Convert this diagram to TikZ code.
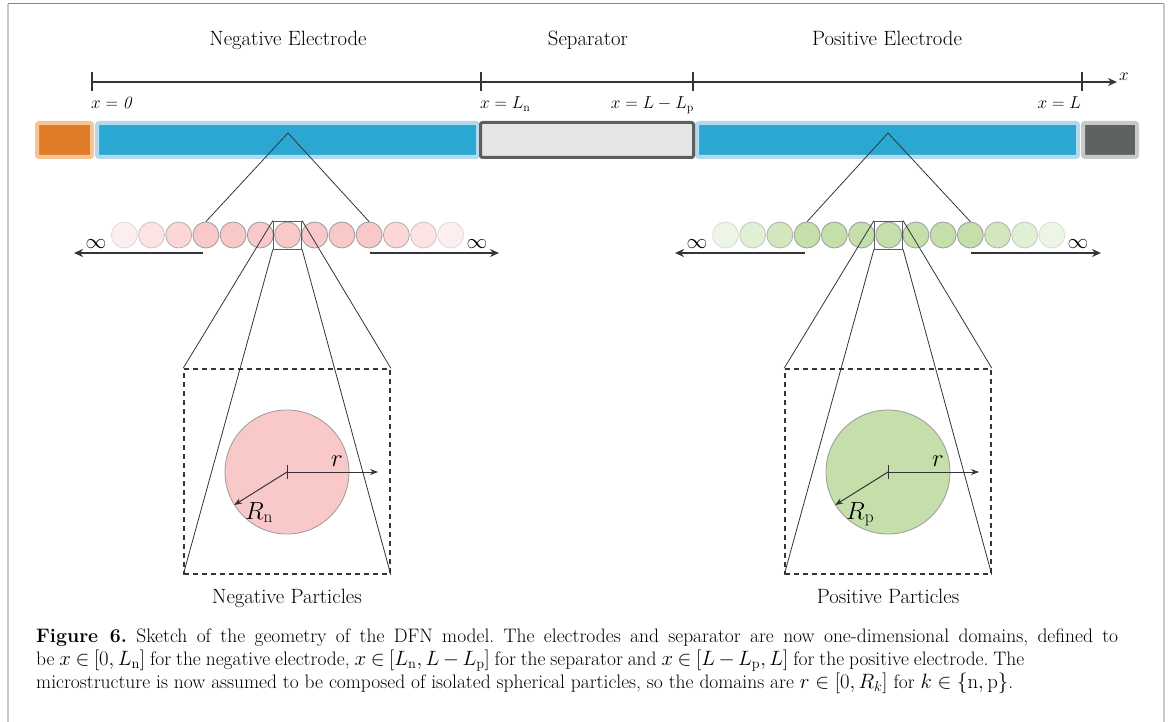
\documentclass[tikz,border=0pt]{standalone}
\usepackage{amsmath}
\usetikzlibrary{arrows.meta}
\definecolor{orangeF}{HTML}{E07B28}
\definecolor{orangeB}{HTML}{F3C594}
\definecolor{blueF}{HTML}{2BA8D2}
\definecolor{blueB}{HTML}{B3D9EB}
\definecolor{sepF}{HTML}{E5E5E5}
\definecolor{sepB}{HTML}{5B5F60}
\definecolor{grayF}{HTML}{5F6263}
\definecolor{grayB}{HTML}{C9C9C9}
\definecolor{pinkF}{HTML}{F9C9C9}
\definecolor{greenF}{HTML}{C4DFAA}
\definecolor{circB}{HTML}{9A9A9A}
\definecolor{ink}{HTML}{333538}
\definecolor{frameL}{HTML}{C8C8C8}
\definecolor{frameT}{HTML}{8A8A8A}
\tikzset{
  blockbox/.style={draw, rounded corners=2pt, inner sep=0pt, outer sep=0pt, minimum height=34pt},
  particle/.style={circle, draw=circB, line width=0.8pt, inner sep=0pt, minimum size=26pt},
  bigparticle/.style={circle, draw=circB, line width=0.8pt, inner sep=0pt, minimum size=124pt},
  zoombox/.style={draw=ink!80, line width=0.8pt, inner sep=0pt, minimum width=28.4pt, minimum height=28pt},
  dashbox/.style={draw=ink, line width=1.6pt, dash pattern=on 5pt off 4pt, inner sep=0pt, minimum width=206pt, minimum height=205pt},
  thinline/.style={draw=ink, line width=0.8pt},
  axisline/.style={draw=ink, line width=1.6pt},
  infarrow/.style={draw=ink, line width=2pt, -{Stealth[length=9pt,width=8pt]}},
  radarrow/.style={draw=ink, line width=1pt, -{Stealth[length=8pt,width=6pt]}},
  titletext/.style={font=\fontsize{20.7}{24}\selectfont, inner sep=0pt, anchor=base},
  axistext/.style={font=\fontsize{17.5}{20}\selectfont, inner sep=0pt},
  inftext/.style={font=\fontsize{20}{22}\selectfont, inner sep=0pt},
  symtext/.style={font=\fontsize{25}{28}\selectfont, inner sep=0pt, anchor=base west},
  captext/.style={font=\fontsize{19.5}{23}\selectfont\frenchspacing, inner sep=0pt, anchor=base west},
}
\begin{document}
\begin{tikzpicture}[x=1pt,y=-1pt]
\useasboundingbox (0,0) rectangle (1170,722);
% frame
\draw[frameL, line width=2pt] (8,4) -- (8,722);
\draw[frameL, line width=2pt] (1164,4) -- (1164,722);
\draw[frameT, line width=1pt] (8,4) -- (1164,4);

% titles
\node[titletext] (tneg) at (288,46) {Negative Electrode};
\node[titletext] (tsep) at (588,46) {Separator};
\node[titletext] (tpos) at (887,46) {Positive Electrode};

% axis
\coordinate (a0) at (92,82);
\coordinate (a1) at (481,82);
\coordinate (a2) at (693,82);
\coordinate (a3) at (1082,82);
\coordinate (aend) at (1117,82);
\draw[axisline, -{Stealth[length=9pt,width=8pt]}] (a0) -- (aend);
\foreach \c in {a0,a1,a2,a3} \draw[axisline] (\c) ++(0,-9.5) -- ++(0,19);
\node[axistext, anchor=base west] (xlab) at (1119,81) {$x$};
\node[axistext, anchor=base west] (l0) at (91,109) {$x = \mathit{0}$};
\node[axistext, anchor=base west] (l1) at (480,109) {$x = L_{\mathrm{n}}$};
\node[axistext, anchor=base east] (l2) at (694,109) {$x = L - L_{\mathrm{p}}$};
\node[axistext, anchor=base east] (l3) at (1081,109) {$x = L$};

% cell bar
\node[blockbox, draw=orangeB, fill=orangeF, line width=4pt, minimum width=55pt] (cc1) at (64.5,140) {};
\node[blockbox, draw=blueB, fill=blueF, line width=4pt, minimum width=381pt] (negel) at (287.5,140) {};
\node[blockbox, draw=blueB, fill=blueF, line width=4pt, minimum width=381pt] (posel) at (887.5,140) {};
\node[blockbox, draw=sepB, fill=sepF, line width=3pt, minimum width=213pt, minimum height=35pt] (sep) at (587,140) {};
\node[blockbox, draw=grayB, fill=grayF, line width=4pt, minimum width=54pt] (cc2) at (1110,140) {};

% particle chains
\def\fades{{0.3,0.5,0.75,1,1,1,1,1,1,1,0.75,0.5,0.3}}
\foreach \i in {1,...,13}{
  \pgfmathsetmacro{\op}{\fades[\i-1]}
  \node[particle, fill=pinkF, opacity=\op] (n\i) at ({124.3+27.2*(\i-1)},235) {};
  \node[particle, fill=greenF, opacity=\op] (p\i) at ({725.5+27.2*(\i-1)},235) {};
}
\coordinate (apexn) at (288,133);
\coordinate (apexp) at (888,133);
\draw[thinline] (n4.north) -- (apexn) -- (n10.north);
\draw[thinline] (p4.north) -- (apexp) -- (p10.north);

% infinity arrows
\coordinate (nl) at (203,253); \coordinate (nlt) at (74,253);
\coordinate (nr) at (370,253); \coordinate (nrt) at (499,253);
\coordinate (pl) at (805,253); \coordinate (plt) at (675,253);
\coordinate (pr) at (971,253); \coordinate (prt) at (1101,253);
\draw[infarrow] (nl) -- (nlt);
\draw[infarrow] (nr) -- (nrt);
\draw[infarrow] (pl) -- (plt);
\draw[infarrow] (pr) -- (prt);
\node[inftext] (inf1) at (96,244) {$\infty$};
\node[inftext] (inf2) at (477,244) {$\infty$};
\node[inftext] (inf3) at (697,244) {$\infty$};
\node[inftext] (inf4) at (1078,244) {$\infty$};

% zoom boxes and dashed boxes
\node[zoombox] (zn) at (287.5,235) {};
\node[zoombox] (zp) at (888.5,235) {};
\node[dashbox] (dn) at (287,471.5) {};
\node[dashbox] (dp) at (888,471.5) {};
\draw[thinline] (zn.north west) -- (dn.north west);
\draw[thinline] (zn.north east) -- (dn.north east);
\draw[thinline] (zn.south west) -- (dn.south west);
\draw[thinline] (zn.south east) -- (dn.south east);
\draw[thinline] (zp.north west) -- (dp.north west);
\draw[thinline] (zp.north east) -- (dp.north east);
\draw[thinline] (zp.south west) -- (dp.south west);
\draw[thinline] (zp.south east) -- (dp.south east);

% big particles
\node[bigparticle, fill=pinkF] (bn) at (287,472) {};
\node[bigparticle, fill=greenF] (bp) at (888,472) {};
\coordinate (rn) at (378,472);
\coordinate (rp) at (979,472);
\draw[radarrow] (bn.center) -- (rn);
\draw[radarrow] (bn.center) -- (bn.212);
\draw[radarrow] (bp.center) -- (rp);
\draw[radarrow] (bp.center) -- (bp.212);
\draw[ink, line width=1pt] (bn.center) ++(0,-7) -- ++(0,14);
\draw[ink, line width=1pt] (bp.center) ++(0,-7) -- ++(0,14);
\node[symtext] (rlabn) at (331,466) {$r$};
\node[symtext] (rlabp) at (932,466) {$r$};
\node[symtext] (Rlabn) at (245,519) {$R_{\mathrm{n}}$};
\node[symtext] (Rlabp) at (846,519) {$R_{\mathrm{p}}$};
\node[titletext] (partn) at (287,603) {Negative Particles};
\node[titletext] (partp) at (888,603) {Positive Particles};

% caption
\node[captext] (cap1) at (36,642) {\makebox[1082pt][s]{\textbf{Figure 6.} Sketch of the geometry of the DFN model. The electrodes and separator are now one-dimensional domains, defined to}};
\node[captext] (cap2) at (36,665) {\spaceskip=0.25em plus 0.1em\thickmuskip=4mu\medmuskip=3mu be $x\in[0,L_{\mathrm{n}}]$ for the negative electrode, $x\in[L_{\mathrm{n}},L-L_{\mathrm{p}}]$ for the separator and $x\in[L-L_{\mathrm{p}},L]$ for the positive electrode. The};
\node[captext] (cap3) at (36,688) {microstructure is now assumed to be composed of isolated spherical particles, so the domains are $r\in[0,R_k]$ for $k\in\{\mathrm{n},\mathrm{p}\}$.};
\end{tikzpicture}
\end{document}
